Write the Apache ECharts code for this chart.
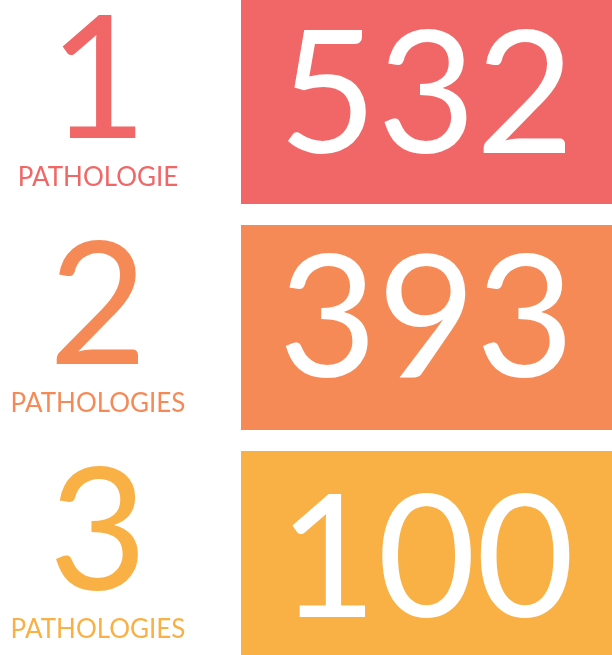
<!DOCTYPE html>
<html>
<head>
<meta charset="utf-8">
<script src="https://cdn.jsdelivr.net/npm/echarts@6/dist/echarts.min.js"></script>
<style>
  html, body { margin: 0; padding: 0; background: #fff; }
  #main { width: 612px; height: 655px; }
</style>
</head>
<body>
<div id="main"></div>
<script>
// nombre de pathologies / nombre de patients
const pathoCount = ['1', '2', '3'];
const pathoLabel = ['PATHOLOGIE', 'PATHOLOGIES', 'PATHOLOGIES'];
const patients = [532, 393, 100];

const colors = ['#F16767', '#F58A57', '#F9B044'];
const numShift = [-3, -5, 9]; // petit décalage vertical du chiffre dans la case

const rich = {};
colors.forEach(function (c, i) {
  rich['n' + i] = { color: c, fontSize: 170, lineHeight: 153, fontFamily: 'Lato', align: 'center' };
  rich['l' + i] = { color: c, fontSize: 26, lineHeight: 37, fontFamily: 'Lato', align: 'center' };
});

const chart = echarts.init(document.getElementById('main'));
chart.setOption({
  animation: false,
  grid: { left: 241, right: 0, top: -11.5, bottom: -11.5, outerBoundsMode: 'none' },
  xAxis: { type: 'value', min: 0, max: 1, show: false },
  yAxis: {
    type: 'category',
    inverse: true,
    data: pathoCount,
    axisLine: { show: false },
    axisTick: { show: false },
    splitLine: { show: false },
    axisLabel: {
      margin: 143,
      align: 'center',
      formatter: function (v, i) {
        return '{n' + i + '|' + v + '}\n{l' + i + '|' + pathoLabel[i] + '}';
      },
      rich: rich
    }
  },
  series: [{
    type: 'bar',
    barWidth: 205,
    // chaque case occupe toute la largeur, le nombre est affiché en étiquette
    data: patients.map(function (p, i) {
      return { value: 1, itemStyle: { color: colors[i] }, label: { offset: [0, numShift[i]] } };
    }),
    label: {
      show: true,
      position: 'inside',
      color: '#fff',
      fontSize: 170,
      fontFamily: 'Lato',
      formatter: function (p) { return patients[p.dataIndex]; }
    }
  }]
});
</script>
</body>
</html>
